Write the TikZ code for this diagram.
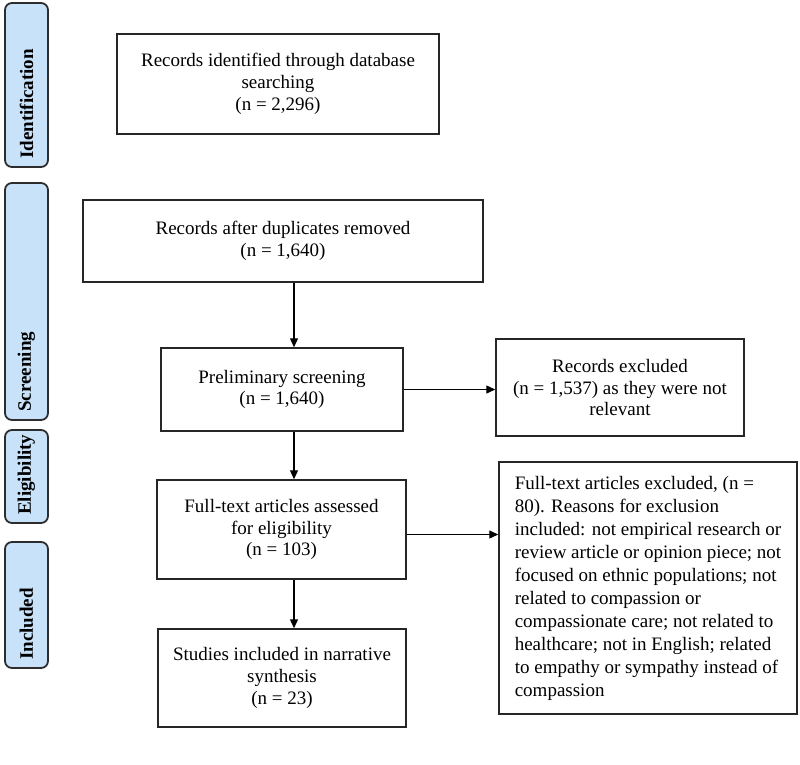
\documentclass[tikz,border=0pt]{standalone}
\usepackage{fontspec}
\setmainfont{Liberation Serif}
\usetikzlibrary{arrows.meta}
\definecolor{stagefill}{RGB}{200,226,250}
\definecolor{stageline}{RGB}{45,45,45}

\begin{document}
\begin{tikzpicture}[x=1pt,y=-1pt,
  stage/.style={draw=stageline,line width=1.8pt,fill=stagefill,rounded corners=7pt},
  stagetext/.style={rotate=90,anchor=west,inner sep=0pt,font=\fontsize{19}{22}\selectfont\bfseries},
  box/.style={draw=black!85,line width=1.5pt,align=center,inner sep=0pt,font=\fontsize{19}{21.7}\selectfont},
  arr/.style={-{Triangle[width=8pt,length=9pt]},line width=1.3pt}]
\useasboundingbox (0,0) rectangle (800,765);
%stages on the left
\foreach \top/\bot/\name in {3/167/Identification,183/420/Screening,430/523/Eligibility,542/668/Included}{
  \draw [stage] (5,\top) rectangle (48,\bot);
  \node [stagetext] (\name) at (26.5,\bot-8) {\name};
}

\node [box,minimum width=322pt,minimum height=100pt] (found) at (278,84)
  {Records identified through database\\searching\\(n = 2,296)};
\node [box,minimum width=400pt,minimum height=82pt] (dedup) at (283,241)
  {Records after duplicates removed\\(n = 1,640)};
\node [box,minimum width=242pt,minimum height=83pt] (prelim) at (282,389.5)
  {Preliminary screening\\(n = 1,640)};
\node [box,minimum width=249pt,minimum height=99pt] (fulltext) at (281.5,529.5)
  {Full-text articles assessed\\for eligibility\\(n = 103)};
\node [box,minimum width=248pt,minimum height=98pt] (synth) at (282,678)
  {Studies included in narrative\\synthesis\\(n = 23)};
\node [box,minimum width=248pt,minimum height=97pt] (notrel) at (620,387.5)
  {Records excluded\\(n = 1,537) as they were not\\relevant};
\node [box,align=left,minimum width=298pt,minimum height=252pt,
  font=\fontsize{19}{23}\selectfont] (reasons) at (648,588)
  {Full-text articles excluded, (n =\\80). Reasons for exclusion\\included: not empirical research or\\review article or opinion piece; not\\focused on ethnic populations; not\\related to compassion or\\compassionate care; not related to\\healthcare; not in English; related\\to empathy or sympathy instead of\\compassion};

\coordinate (spine) at (294,0);
\draw [arr] (dedup.south -| spine) -- (prelim.north -| spine);
\draw [arr] (prelim.south -| spine) -- (fulltext.north -| spine);
\draw [arr] (fulltext.south -| spine) -- (synth.north -| spine);
\draw [arr] (prelim.east) -- (prelim.east -| notrel.west);
\draw [arr] ([yshift=-5pt]fulltext.east) -- ([yshift=-5pt]fulltext.east -| reasons.west);
\end{tikzpicture}
\end{document}
